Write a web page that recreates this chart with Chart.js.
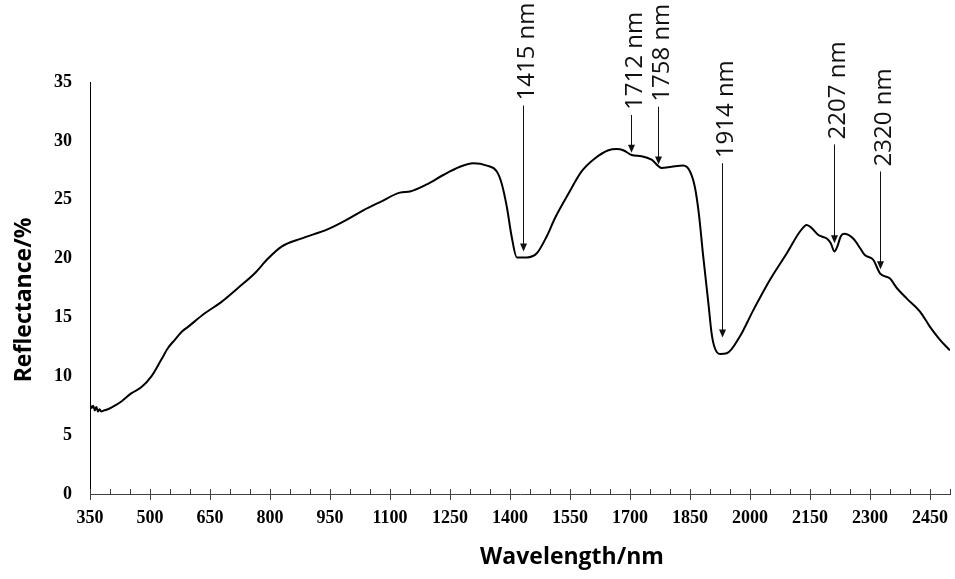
<!DOCTYPE html>
<html>
<head>
<meta charset="utf-8">
<script src="https://cdn.jsdelivr.net/npm/chart.js@4.4.0/dist/chart.umd.min.js"></script>
<style>
    html, body { margin: 0; padding: 0; background: #fff; }
    #wrap { width: 955px; height: 579px; }
</style>
</head>
<body>
<div id="wrap"><canvas id="myChart" width="955" height="579"></canvas></div>
<script>
/*               spectrum data                */

const wavelengths = [350, 354, 358, 362, 366, 370, 374, 378, 385, 395, 412, 430, 453, 478, 503, 528, 545, 562, 580, 595,
    637, 678, 720, 762, 795, 828, 878, 945, 992, 1033, 1075, 1125, 1150, 1192, 1233, 1275, 1308, 1342, 1367, 1379,
    1392, 1404, 1417, 1442, 1467, 1492, 1512, 1546, 1579, 1612, 1646, 1667, 1683, 1704, 1729, 1754, 1779, 1804, 1833, 1850,
    1862, 1872, 1883, 1896, 1904, 1912, 1925, 1942, 1975, 2008, 2050, 2092, 2125, 2142, 2154, 2171, 2192, 2202, 2211, 2218,
    2227, 2235, 2258, 2275, 2287, 2308, 2325, 2350, 2367, 2392, 2425, 2450, 2475, 2500];
const reflectance = [7.6, 7.3, 7.5, 7.1, 7.4, 7.0, 7.2, 7.0, 7.1, 7.2, 7.5, 7.9, 8.55, 9.06, 9.97, 11.4, 12.4, 13.1, 13.8, 14.2,
    15.35, 16.3, 17.5, 18.75, 20.0, 21.0, 21.7, 22.5, 23.3, 24.1, 24.8, 25.6, 25.7, 26.3, 27.1, 27.8, 28.1, 27.9, 27.4, 26.4,
    24.4, 21.9, 20.1, 20.1, 20.45, 21.9, 23.4, 25.5, 27.4, 28.5, 29.2, 29.3, 29.2, 28.8, 28.7, 28.4, 27.7, 27.8, 27.9, 27.4,
    26.1, 23.85, 20.2, 16.2, 13.65, 12.4, 11.9, 11.95, 13.4, 15.6, 18.2, 20.45, 22.3, 22.85, 22.6, 22.0, 21.7, 21.3, 20.6, 21.0,
    21.9, 22.1, 21.7, 20.9, 20.3, 19.9, 18.75, 18.3, 17.5, 16.6, 15.5, 14.2, 13.1, 12.2];

const xTickLabels = [350, 500, 650, 800, 950, 1100, 1250, 1400, 1550, 1700, 1850, 2000, 2150, 2300, 2450];
const yTickLabels = [0, 5, 10, 15, 20, 25, 30, 35];

// absorption band markers
const bandLabels = ['1415 nm', '1712 nm', '1758 nm', '1914 nm', '2207 nm', '2320 nm'];
const bandArrowX = [1432, 1703, 1770, 1929, 2210, 2325];
const bandArrowTop = [33.0, 32.2, 32.9, 28.1, 29.7, 27.4];
const bandArrowTip = [20.6, 29.0, 28.0, 13.3, 21.3, 19.1];

/*               axis ticks, band arrows and axis titles                */

const bandMarks = {
    id: 'bandMarks',
    afterDraw(chart) {
        const ctx = chart.ctx;
        const x = chart.scales.x;
        const y = chart.scales.y;
        const y0 = y.getPixelForValue(0);
        ctx.save();

        // x axis tick marks (minor every 50 nm)
        ctx.strokeStyle = '#404040';
        ctx.lineWidth = 1;
        for (let v = 350; v <= 2500; v += 50) {
            const px = Math.round(x.getPixelForValue(v)) + 0.5;
            ctx.beginPath();
            ctx.moveTo(px, y0 - 5);
            ctx.lineTo(px, xTickLabels.includes(v) ? y0 + 6 : y0);
            ctx.stroke();
        }

        // arrows with rotated labels
        ctx.strokeStyle = '#111';
        ctx.fillStyle = '#111';
        bandLabels.forEach(function (label, i) {
            const px = Math.round(x.getPixelForValue(bandArrowX[i])) + 0.5;
            const top = y.getPixelForValue(bandArrowTop[i]);
            const tip = y.getPixelForValue(bandArrowTip[i]);
            ctx.beginPath();
            ctx.moveTo(px, top);
            ctx.lineTo(px, tip - 6);
            ctx.stroke();
            ctx.beginPath();
            ctx.moveTo(px - 3.5, tip - 8);
            ctx.lineTo(px + 3.5, tip - 8);
            ctx.lineTo(px, tip);
            ctx.closePath();
            ctx.fill();

            ctx.save();
            ctx.translate(px + 4, top - 5);
            ctx.rotate(-Math.PI / 2);
            ctx.font = '24px "Open Sans"';
            ctx.textAlign = 'left';
            ctx.textBaseline = 'middle';
            ctx.fillText(label, 0, 0);
            ctx.restore();
        });

        // axis titles
        ctx.fillStyle = '#000';
        ctx.font = 'bold 23px "Open Sans"';
        ctx.textAlign = 'center';
        ctx.textBaseline = 'middle';
        ctx.fillText('Wavelength/nm', 572, 557);
        ctx.save();
        ctx.translate(24, 300);
        ctx.rotate(-Math.PI / 2);
        ctx.fillText('Reflectance/%', 0, 0);
        ctx.restore();

        ctx.restore();
    }
};

let ctx = document.getElementById('myChart').getContext('2d');
let chart = new Chart(ctx, {
    type: 'line',
    data: {
        datasets: [{
            label: 'Reflectance',
            data: wavelengths.map(function (w, i) { return {x: w, y: reflectance[i]}; }),
            borderColor: '#000',
            borderWidth: 2,
            pointRadius: 0,
            fill: false,
            cubicInterpolationMode: 'monotone'
        }]
    },
    options: {
        responsive: false,
        animation: false,
        devicePixelRatio: 1,
        layout: { padding: { top: 82, right: 5, left: 0, bottom: 0 } },
        plugins: {
            legend: { display: false },
            tooltip: { enabled: false }
        },
        scales: {
            x: {
                type: 'linear',
                min: 350,
                max: 2500,
                afterBuildTicks: function (scale) {
                    scale.ticks = xTickLabels.map(function (v) { return {value: v}; });
                },
                afterFit: function (scale) {
                    scale.height = 85;
                    scale.paddingLeft = 0;
                    scale.paddingRight = 0;
                },
                grid: { display: false, drawTicks: false },
                border: { display: true, color: '#404040', width: 1 },
                ticks: {
                    autoSkip: false,
                    maxRotation: 0,
                    padding: 14,
                    color: '#000',
                    callback: function (value) { return String(value); },
                    font: { family: '"Liberation Serif", serif', size: 18, weight: 'bold' }
                }
            },
            y: {
                min: 0,
                max: 35,
                afterBuildTicks: function (scale) {
                    scale.ticks = yTickLabels.map(function (v) { return {value: v}; });
                },
                afterFit: function (scale) { scale.width = 90; },
                grid: { display: false, drawTicks: false },
                border: { display: true, color: '#000', width: 1 },
                ticks: {
                    padding: 18,
                    color: '#000',
                    font: { family: '"Liberation Serif", serif', size: 18, weight: 'bold' }
                }
            }
        }
    },
    plugins: [bandMarks]
});
</script>
</body>
</html>
